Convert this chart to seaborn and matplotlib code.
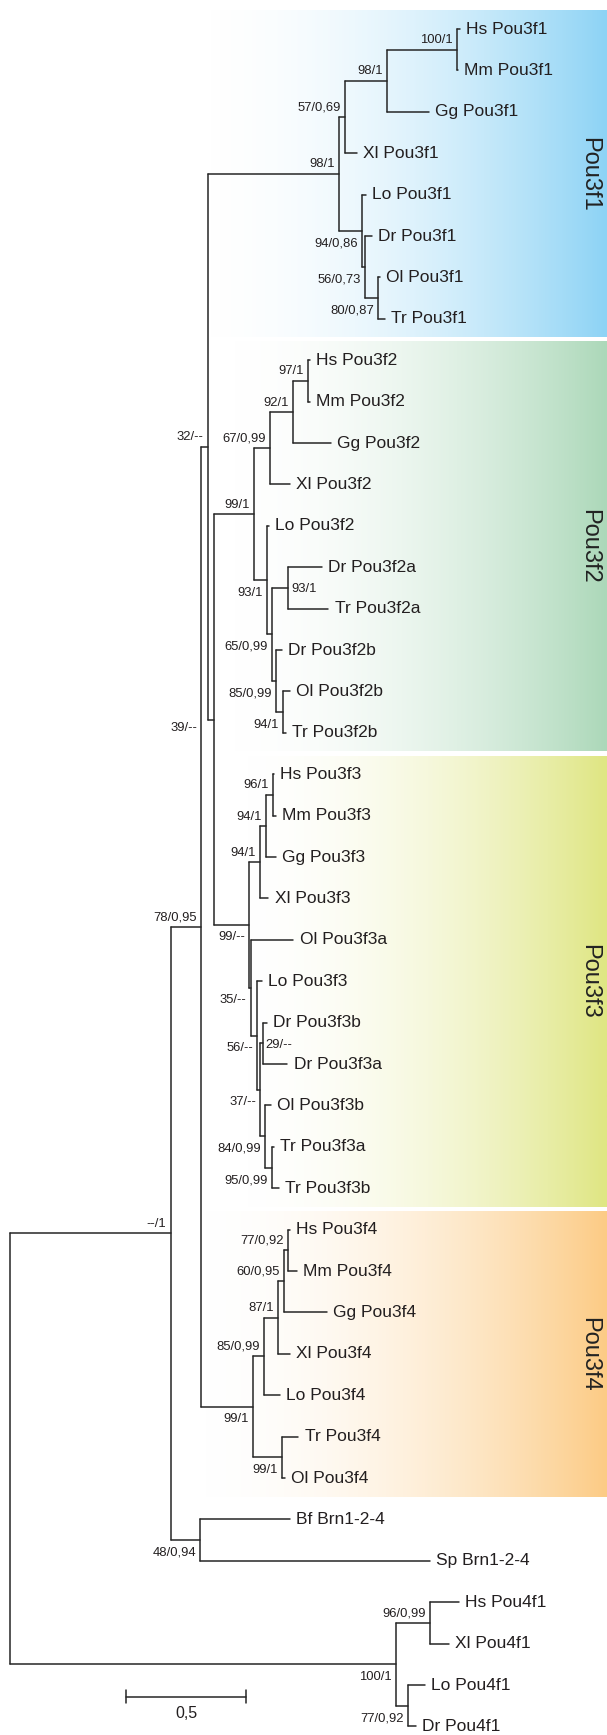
import numpy as np
import pandas as pd
import matplotlib
matplotlib.use("Agg")
import matplotlib.pyplot as plt
from matplotlib import font_manager
from matplotlib.colors import LinearSegmentedColormap
import seaborn as sns

# --- tree data (branch lengths in substitutions/site) ---
node_name = [
    "root", "A", "B", "C",
    "F1", "F1a", "F1b", "F1c", "Hs Pou3f1", "Mm Pou3f1", "Gg Pou3f1", "Xl Pou3f1",
    "F1d", "Lo Pou3f1", "F1e", "Dr Pou3f1", "F1f", "Ol Pou3f1", "Tr Pou3f1",
    "D",
    "F2", "F2a", "F2g", "F2h", "Hs Pou3f2", "Mm Pou3f2", "Gg Pou3f2", "Xl Pou3f2",
    "F2b", "Lo Pou3f2", "F2c", "F2i", "Dr Pou3f2a", "Tr Pou3f2a",
    "F2e", "Dr Pou3f2b", "F2j", "Ol Pou3f2b", "Tr Pou3f2b",
    "F3", "F3a", "F3b", "F3c", "Hs Pou3f3", "Mm Pou3f3", "Gg Pou3f3", "Xl Pou3f3",
    "X", "Ol Pou3f3a", "Y", "Lo Pou3f3", "Z", "N29", "Dr Pou3f3b", "Dr Pou3f3a",
    "W", "Ol Pou3f3b", "V", "Tr Pou3f3a", "Tr Pou3f3b",
    "F4", "F4a", "F4b", "F4c", "F4d", "Hs Pou3f4", "Mm Pou3f4", "Gg Pou3f4",
    "Xl Pou3f4", "Lo Pou3f4", "F4e", "Tr Pou3f4", "Ol Pou3f4",
    "Brn", "Bf Brn1-2-4", "Sp Brn1-2-4",
    "P4", "P4a", "Hs Pou4f1", "Xl Pou4f1", "P4b", "Lo Pou4f1", "Dr Pou4f1",
]
node_parent = [
    None, "root", "A", "B",
    "C", "F1", "F1a", "F1b", "F1c", "F1c", "F1b", "F1a",
    "F1", "F1d", "F1d", "F1e", "F1e", "F1f", "F1f",
    "C",
    "D", "F2", "F2a", "F2g", "F2h", "F2h", "F2g", "F2a",
    "F2", "F2b", "F2b", "F2c", "F2i", "F2i",
    "F2c", "F2e", "F2e", "F2j", "F2j",
    "D", "F3", "F3a", "F3b", "F3c", "F3c", "F3b", "F3a",
    "F3", "X", "X", "Y", "Y", "Z", "N29", "N29",
    "Z", "W", "W", "V", "V",
    "B", "F4", "F4a", "F4b", "F4c", "F4d", "F4d", "F4c",
    "F4b", "F4a", "F4", "F4e", "F4e",
    "A", "Brn", "Brn",
    "root", "P4", "P4a", "P4a", "P4", "P4b", "P4b",
]
branch_len = [
    0.0, 0.667, 0.127, 0.027,
    0.548, 0.025, 0.175, 0.292, 0.010, 0.002, 0.175, 0.050,
    0.096, 0.017, 0.013, 0.029, 0.054, 0.008, 0.029,
    0.028,
    0.165, 0.067, 0.095, 0.065, 0.007, 0.007, 0.160, 0.083,
    0.053, 0.010, 0.021, 0.069, 0.139, 0.167,
    0.018, 0.024, 0.030, 0.028, 0.011,
    0.145, 0.046, 0.024, 0.029, 0.003, 0.014, 0.043, 0.035,
    0.007, 0.178, 0.028, 0.018, 0.011, 0.011, 0.017, 0.103,
    0.021, 0.024, 0.028, 0.007, 0.028,
    0.216, 0.048, 0.058, 0.025, 0.014, 0.010, 0.038, 0.177,
    0.049, 0.063, 0.121, 0.068, 0.011,
    0.124, 0.373, 0.956,
    1.605, 0.145, 0.118, 0.077, 0.053, 0.068, 0.032,
]

# bootstrap / posterior support and where the label sits (a=above, b=below, r=right)
support_node = ["F1c", "F1b", "F1a", "F1", "F1d", "F1e", "F1f",
                "C", "D", "B", "A",
                "F2", "F2a", "F2g", "F2h", "F2b", "F2i", "F2c", "F2e", "F2j",
                "F3", "F3a", "F3b", "F3c", "X", "Y", "N29", "Z", "W", "V",
                "F4", "F4a", "F4b", "F4c", "F4d", "F4e",
                "Brn", "P4", "P4a", "P4b"]
support_text = ["100/1", "98/1", "57/0,69", "98/1", "94/0,86", "56/0,73", "80/0,87",
                "32/--", "39/--", "78/0,95", "--/1",
                "99/1", "67/0,99", "92/1", "97/1", "93/1", "93/1", "65/0,99", "85/0,99", "94/1",
                "99/--", "94/1", "94/1", "96/1", "35/--", "56/--", "29/--", "37/--", "84/0,99", "95/0,99",
                "99/1", "85/0,99", "87/1", "60/0,95", "77/0,92", "99/1",
                "48/0,94", "100/1", "96/0,99", "77/0,92"]
support_side = ["a", "a", "a", "a", "b", "b", "b",
                "a", "b", "a", "a",
                "a", "a", "a", "a", "b", "r", "b", "b", "b",
                "b", "a", "a", "a", "b", "b", "r", "b", "b", "b",
                "b", "a", "a", "a", "a", "b",
                "b", "b", "a", "b"]

# coloured clade boxes
clade_names = ["Pou3f1", "Pou3f2", "Pou3f3", "Pou3f4"]
clade_first = ["Hs Pou3f1", "Hs Pou3f2", "Hs Pou3f3", "Hs Pou3f4"]
clade_last = ["Tr Pou3f1", "Tr Pou3f2b", "Tr Pou3f3b", "Ol Pou3f4"]
clade_colors = ["#8dd3f5", "#acd8b9", "#dfe683", "#fccb85"]
clade_left = [0.727, 0.835, 0.894, 0.706]

scale_len = 0.5
scale_text = "0,5"

# --- layout -------------------------------------------------------------
PX_X = 240.0      # pixels per unit branch length
PX_Y = 41.4       # pixels per leaf row
X0 = 10.5         # root x in pixels
Y0 = 29.0         # first leaf y in pixels

children = {n: [] for n in node_name}
for n, p in zip(node_name, node_parent):
    if p is not None:
        children[p].append(n)
blen = dict(zip(node_name, branch_len))

xpos, ypos = {}, {}
leaf_order = []


def layout(n, depth):
    xpos[n] = depth
    if not children[n]:
        ypos[n] = float(len(leaf_order))
        leaf_order.append(n)
    else:
        for c in children[n]:
            layout(c, depth + blen[c])
        ypos[n] = (ypos[children[n][0]] + ypos[children[n][-1]]) / 2


layout("root", 0.0)

rows = []
seg = 0
for n, p in zip(node_name, node_parent):
    if p is not None:
        rows += [(seg, xpos[p], ypos[n]), (seg, xpos[n], ypos[n])]
        seg += 1
    if children[n]:
        c0, c1 = children[n][0], children[n][-1]
        rows += [(seg, xpos[n], ypos[c0]), (seg, xpos[n], ypos[c1])]
        seg += 1
seg_df = pd.DataFrame(rows, columns=["seg", "x", "y"])


def pick_font(cands):
    for f in cands:
        try:
            font_manager.findfont(font_manager.FontProperties(family=f),
                                  fallback_to_default=False)
            return f
        except ValueError:
            pass
    return "DejaVu Sans"


sns.set_theme(style="white")
base_font = pick_font(["Liberation Sans", "Arial", "DejaVu Sans"])
narrow_font = pick_font(["Liberation Sans Narrow"])
plt.rcParams["font.family"] = [base_font, "DejaVu Sans"]
if narrow_font == "Liberation Sans Narrow":
    sup_family, sup_size = narrow_font, 11.2
else:
    sup_family, sup_size = base_font, 9.4

W_PX, H_PX = 607, 1735
fig = plt.figure(figsize=(W_PX / 100, H_PX / 100), dpi=100)
ax = fig.add_axes([0, 0, 1, 1])
xmin, xmax = -X0 / PX_X, (W_PX - X0) / PX_X
ymax, ymin = (H_PX - Y0) / PX_Y, -Y0 / PX_Y
ax.set_xlim(xmin, xmax)
ax.set_ylim(ymax, ymin)
ax.axis("off")

# gradient boxes
for name, first, last, col, left in zip(clade_names, clade_first, clade_last,
                                        clade_colors, clade_left):
    top = ypos[first] - 0.44
    bot = ypos[last] + 0.45
    cmap = LinearSegmentedColormap.from_list(name, ["#ffffff", col])
    s = np.linspace(0, 1, 256) ** 2
    ax.imshow(s[np.newaxis, :], cmap=cmap, vmin=0, vmax=1, aspect="auto",
              extent=(left, xmax, bot, top), zorder=0, interpolation="bilinear")
    ax.text(xmax - 18 / PX_X, (top + bot) / 2, name, rotation=-90,
            ha="center", va="center", fontsize=17, color="#222222", zorder=3)
ax.set_xlim(xmin, xmax)
ax.set_ylim(ymax, ymin)

# branches
sns.lineplot(data=seg_df, x="x", y="y", units="seg", estimator=None, sort=False,
             color="#262626", linewidth=1.1, ax=ax, legend=False, zorder=2)
ax.set_xlim(xmin, xmax)
ax.set_ylim(ymax, ymin)
ax.axis("off")

# leaf labels
for leaf in leaf_order:
    ax.annotate(leaf, (xpos[leaf], ypos[leaf]), xytext=(4.5, 0),
                textcoords="offset points", ha="left", va="center",
                fontsize=12.5, color="#231f20", zorder=3)

# support values
for n, t, side in zip(support_node, support_text, support_side):
    if side == "a":
        off, ha = (-3.0, 6.8), "right"
    elif side == "b":
        off, ha = (-3.0, -9.0), "right"
    else:
        off, ha = (2.2, -1.0), "left"
    if n == "D":
        off = (-12.5, -6.0)
    ax.annotate(t, (xpos[n], ypos[n]), xytext=off, textcoords="offset points",
                ha=ha, va="center", fontsize=sup_size, family=sup_family,
                color="#231f20", zorder=3)

# scale bar
sb_x = 0.481
sb_y = ypos["Dr Pou4f1"] - 0.72
sb_df = pd.DataFrame({"seg": [0, 0, 1, 1, 2, 2],
                      "x": [sb_x, sb_x + scale_len, sb_x, sb_x,
                            sb_x + scale_len, sb_x + scale_len],
                      "y": [sb_y, sb_y, sb_y - 0.15, sb_y + 0.15,
                            sb_y - 0.15, sb_y + 0.15]})
sns.lineplot(data=sb_df, x="x", y="y", units="seg", estimator=None, sort=False,
             color="#262626", linewidth=1.1, ax=ax, legend=False)
ax.text(sb_x + scale_len / 2, sb_y + 0.42, scale_text, ha="center", va="center",
        fontsize=11.5, family=sup_family, color="#231f20")
ax.set_xlim(xmin, xmax)
ax.set_ylim(ymax, ymin)
ax.axis("off")

fig.savefig("out.png", dpi=100)
